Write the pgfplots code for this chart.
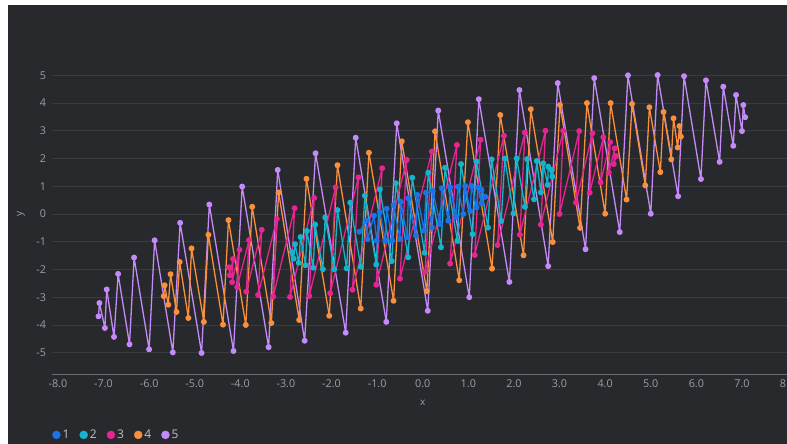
\documentclass[border=0pt]{standalone}
\usepackage{fontspec}
\setmainfont{Open Sans}
\usepackage{pgfplots}
\pgfplotsset{compat=1.18}

\definecolor{bgc}{HTML}{28292C}
\definecolor{gridc}{HTML}{3A3B3E}
\definecolor{axisc}{HTML}{6B6D70}
\definecolor{tickc}{HTML}{9AA0A6}
\definecolor{legc}{HTML}{BDC1C6}
\definecolor{c1}{HTML}{1A73E8}
\definecolor{c2}{HTML}{12B5CB}
\definecolor{c3}{HTML}{E52592}
\definecolor{c4}{HTML}{FA903E}
\definecolor{c5}{HTML}{C58AF9}

\pgfplotsset{
  zz/.style={color=#1, line width=1.3pt, line join=round, mark=*, mark size=2.3pt, mark options={solid}, forget plot},
}

\begin{document}
\begin{tikzpicture}[x=1pt,y=1pt]
\useasboundingbox (0,0) rectangle (787,-444);
\fill[white] (0,0) rectangle (787,-444);
\fill[bgc] (8,-5) rectangle (787,-444);
\begin{axis}[
  at={(52pt,-374.3pt)}, anchor=south west,
  scale only axis, width=741.5pt, height=320.6pt,
  xmin=-8.13, xmax=8.13, ymin=-5.78, ymax=5.78,
  axis x line*=bottom, axis y line*=left,
  y axis line style={draw=none},
  x axis line style={draw=axisc, line width=1.6pt},
  major tick length=0pt,
  xtick={-8,-7,...,8},
  xticklabels={-8.0,-7.0,-6.0,-5.0,-4.0,-3.0,-2.0,-1.0,0.0,1.0,2.0,3.0,4.0,5.0,6.0,7.0,8.0},
  ytick={-5,-4,...,5},
  yticklabels={-5,-4,-3,-2,-1,0,1,2,3,4,5},
  ymajorgrids, grid style={draw=gridc, line width=0.8pt},
  tick label style={font=\fontsize{10.8}{12}\selectfont, text=tickc},
  yticklabel style={xshift=-2.5pt},
  xticklabel style={yshift=-2pt},
  xlabel={x}, ylabel={y},
  every axis x label/.style={at={(axis description cs:0.5,-0.0895)}, anchor=center, font=\fontsize{10}{11}\selectfont, text=tickc},
  every axis y label/.style={at={(axis description cs:-0.0418,0.5)}, rotate=90, anchor=center, font=\fontsize{10}{11}\selectfont, text=tickc},
  clip=false,
  legend columns=-1,
  legend image code/.code={\fill (4pt,0pt) circle (4pt);},
  legend style={at={(axis description cs:-0.004,-0.189)}, anchor=west, draw=none, fill=none,
    font=\fontsize{12}{13}\selectfont, text=legc,
    /tikz/every even column/.append style={column sep=8pt}},
]
\addlegendimage{c1}\addlegendentry{1}
\addlegendimage{c2}\addlegendentry{2}
\addlegendimage{c3}\addlegendentry{3}
\addlegendimage{c4}\addlegendentry{4}
\addlegendimage{c5}\addlegendentry{5}

% series 5
\addplot[zz=c5] coordinates {
(-7.11,-3.69)(-7.09,-3.21)(-6.97,-4.11)(-6.93,-2.72)(-6.77,-4.43)(-6.68,-2.16)
(-6.43,-4.70)(-6.33,-1.57)(-6.00,-4.88)(-5.88,-0.95)(-5.48,-4.99)(-5.32,-0.32)
(-4.85,-5.01)(-4.68,0.34)(-4.15,-4.94)(-3.96,0.99)(-3.38,-4.80)(-3.18,1.59)
(-2.59,-4.57)(-2.35,2.19)(-1.69,-4.28)(-1.47,2.75)(-0.80,-3.89)(-0.57,3.27)
(0.11,-3.49)(0.34,3.73)(1.02,-3.00)(1.23,4.14)(1.90,-2.45)(2.12,4.47)
(2.75,-1.88)(2.96,4.72)(3.57,-1.27)(3.76,4.90)(4.32,-0.65)(4.50,5.00)
(5.00,0.01)(5.15,5.01)(5.60,0.64)(5.73,4.97)(6.10,1.26)(6.21,4.82)
(6.51,1.88)(6.59,4.59)(6.81,2.46)(6.87,4.29)(7.00,2.99)(7.03,3.93)(7.07,3.49)
};
% series 4
\addplot[zz=c4] coordinates {
(-5.68,-2.96)(-5.66,-2.57)(-5.58,-3.27)(-5.53,-2.17)(-5.40,-3.53)(-5.33,-1.73)
(-5.14,-3.75)(-5.07,-1.24)(-4.80,-3.89)(-4.70,-0.75)(-4.38,-3.99)(-4.26,-0.22)
(-3.88,-4.00)(-3.74,0.26)(-3.32,-3.93)(-3.16,0.78)(-2.71,-3.82)(-2.55,1.27)
(-2.05,-3.67)(-1.87,1.76)(-1.36,-3.41)(-1.18,2.21)(-0.64,-3.13)(-0.46,2.62)
(0.09,-2.78)(0.27,2.98)(0.80,-2.39)(0.99,3.31)(1.52,-1.97)(1.70,3.57)
(2.21,-1.49)(2.37,3.78)(2.85,-1.01)(3.01,3.93)(3.45,-0.50)(3.60,4.00)
(4.00,0.01)(4.12,4.00)(4.47,0.52)(4.59,3.97)(4.88,1.03)(4.97,3.85)
(5.21,1.51)(5.28,3.68)(5.45,1.97)(5.50,3.45)(5.59,2.40)(5.63,3.17)(5.66,2.79)
};
% series 3
\addplot[zz=c3] coordinates {
(-4.25,-1.92)(-4.23,-2.21)(-4.16,-1.62)(-4.18,-2.46)(-4.02,-1.29)(-4.07,-2.64)
(-3.81,-0.94)(-3.87,-2.80)(-3.53,-0.57)(-3.61,-2.92)(-3.20,-0.18)(-3.28,-2.98)
(-2.81,0.21)(-2.91,-2.99)(-2.38,0.58)(-2.49,-2.96)(-1.91,0.96)(-2.03,-2.86)
(-1.41,1.32)(-1.54,-2.73)(-0.89,1.65)(-1.02,-2.55)(-0.35,1.95)(-0.50,-2.33)
(0.20,2.25)(0.05,-2.09)(0.75,2.49)(0.60,-1.79)(1.27,2.68)(1.14,-1.48)
(1.78,2.82)(1.64,-1.12)(2.24,2.94)(2.13,-0.75)(2.69,3.00)(2.59,-0.38)
(3.08,3.00)(3.00,0.00)(3.43,2.99)(3.36,0.41)(3.72,2.91)(3.66,0.77)
(3.96,2.77)(3.90,1.14)(4.11,2.59)(4.08,1.49)(4.21,2.37)(4.19,1.80)(4.24,2.09)
};
% series 2
\addplot[zz=c2] coordinates {
(-2.87,-1.37)(-2.83,-1.61)(-2.80,-1.09)(-2.72,-1.76)(-2.68,-0.83)(-2.57,-1.85)
(-2.54,-0.61)(-2.40,-1.94)(-2.36,-0.38)(-2.19,-1.99)(-2.14,-0.12)(-1.94,-1.99)
(-1.87,0.14)(-1.67,-1.96)(-1.59,0.41)(-1.36,-1.90)(-1.27,0.66)(-1.02,-1.82)
(-0.94,0.89)(-0.68,-1.70)(-0.59,1.11)(-0.32,-1.56)(-0.23,1.31)(0.04,-1.40)
(0.12,1.49)(0.40,-1.20)(0.49,1.67)(0.76,-0.97)(0.84,1.80)(1.09,-0.73)
(1.18,1.89)(1.43,-0.49)(1.51,1.97)(1.72,-0.25)(1.80,2.00)(1.99,0.02)
(2.06,2.00)(2.24,0.26)(2.29,1.98)(2.44,0.53)(2.50,1.91)(2.59,0.78)
(2.64,1.83)(2.74,1.05)(2.75,1.71)(2.84,1.35)(2.83,1.59)
};
% series 1
\addplot[zz=c1] coordinates {
(-1.39,-0.64)(-1.24,-0.24)(-1.21,-0.91)(-1.07,-0.06)(-1.01,-0.96)(-0.94,0.07)
(-0.82,-0.96)(-0.79,0.19)(-0.67,-0.96)(-0.64,0.32)(-0.50,-0.90)(-0.48,0.44)
(-0.34,-0.84)(-0.32,0.57)(-0.15,-0.78)(-0.12,0.69)(0.03,-0.60)(0.07,0.77)
(0.20,-0.48)(0.22,0.84)(0.38,-0.36)(0.42,0.93)(0.56,-0.24)(0.60,0.96)
(0.73,-0.10)(0.77,0.98)(0.89,0.00)(0.93,1.01)(1.04,0.11)(1.07,1.01)
(1.18,0.24)(1.21,0.96)(1.29,0.39)(1.29,0.87)(1.37,0.62)
};
\end{axis}
\end{tikzpicture}
\end{document}
